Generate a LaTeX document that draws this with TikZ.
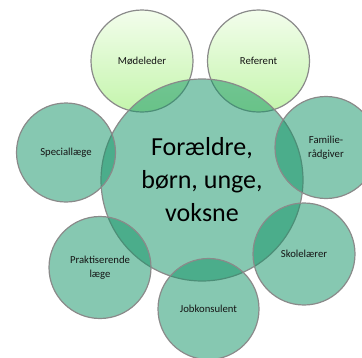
\documentclass[tikz,border=0pt]{standalone}
\usepackage{fontspec}
\setmainfont{Carlito}
\definecolor{tealfill}{RGB}{18,147,102}
\definecolor{rim}{RGB}{138,138,138}
\definecolor{gtop}{RGB}{243,253,236}
\definecolor{gbot}{RGB}{196,245,172}
\definecolor{txt}{RGB}{20,20,20}
\begin{document}
\begin{tikzpicture}[x=1pt,y=-1pt,
  bubble/.style={circle, draw=rim, line width=1.2pt, inner sep=0pt,
    minimum size=#1, text=txt, align=center, font=\fontsize{10.7}{13.5}\selectfont},
  tealbubble/.style={bubble=#1, fill=tealfill, fill opacity=0.51, text opacity=1},
  greenbubble/.style={bubble=#1, top color=gtop, bottom color=gbot},
  hub/.style={tealbubble=#1, text=black, font=\fontsize{26}{33}\selectfont}
]
\useasboundingbox (0,0) rectangle (362,357);
\clip (0,0) rectangle (362,357);
% green bubbles (opaque, underneath)
\node[greenbubble=102] (mode) at (142,61) {Mødeleder};
\node[greenbubble=102] (ref) at (258.5,61) {Referent};
% central bubble
\node[hub=202] (hubc) at (202,180) {Forældre,\\børn, unge,\\voksne};
% teal satellites
\node[tealbubble=99] (spec) at (66,152.5) {Speciallæge};
\node[tealbubble=102] (fam) at (326,147.5) {Familie-\\rådgiver};
\node[tealbubble=102] (skole) at (304,254) {Skolelærer};
\node[tealbubble=102] (prak) at (100,267.5) {Praktiserende\\læge};
\node[tealbubble=101] (job) at (208.5,309) {Jobkonsulent};
\end{tikzpicture}
\end{document}
